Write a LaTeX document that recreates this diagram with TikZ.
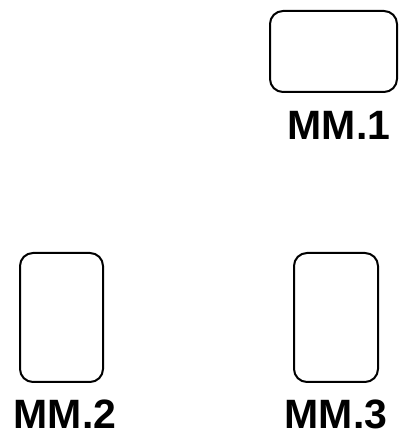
\documentclass[tikz,border=0pt]{standalone}
\usepackage{fontspec}
\setmainfont{Liberation Sans}
\begin{document}
\begin{tikzpicture}[x=1pt,y=1pt,
  mmbox/.style={draw=black,line width=2pt,rounded corners=13pt,fill=white},
  mmlabel/.style={font=\fontsize{41}{41}\selectfont\bfseries,inner sep=0pt,anchor=base}]
\useasboundingbox (0,0) rectangle (404,434);
% y_tikz = 434 - y_image
\draw[mmbox] (270,342) rectangle (397,423);
\node[mmlabel] (l1) at (339,294) {MM.1};
\draw[mmbox] (20,52) rectangle (103,181);
\node[mmlabel] (l2) at (65,5.5) {MM.2};
\draw[mmbox] (294,52) rectangle (378,181);
\node[mmlabel] (l3) at (336,5.5) {MM.3};
\end{tikzpicture}
\end{document}
